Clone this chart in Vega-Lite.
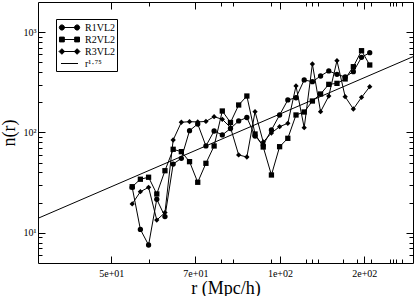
{
  "$schema": "https://vega.github.io/schema/vega-lite/v6.json",
  "width": 375,
  "height": 261,
  "autosize": {"type": "none"},
  "padding": {"left": 38, "top": 2, "right": 2, "bottom": 33},
  "background": "white",
  "datasets": {
    "obs": [
      {"s":"R1VL2","r":51.1,"n":28.4},{"s":"R1VL2","r":53.52,"n":10.8},{"s":"R1VL2","r":56.06,"n":7.56},{"s":"R1VL2","r":58.72,"n":21.6},{"s":"R1VL2","r":61.5,"n":14.5},
      {"s":"R1VL2","r":64.42,"n":48.5},{"s":"R1VL2","r":67.47,"n":55.3},{"s":"R1VL2","r":70.67,"n":104.3},{"s":"R1VL2","r":74.02,"n":121.6},{"s":"R1VL2","r":77.53,"n":73.4},
      {"s":"R1VL2","r":81.2,"n":103.5},{"s":"R1VL2","r":85.05,"n":94.5},{"s":"R1VL2","r":89.08,"n":109.6},{"s":"R1VL2","r":93.3,"n":130.3},{"s":"R1VL2","r":97.72,"n":141.1},
      {"s":"R1VL2","r":102.35,"n":92.3},{"s":"R1VL2","r":107.2,"n":75.0},{"s":"R1VL2","r":112.28,"n":105.9},{"s":"R1VL2","r":117.6,"n":149.5},{"s":"R1VL2","r":123.18,"n":211},
      {"s":"R1VL2","r":129.02,"n":222},{"s":"R1VL2","r":135.14,"n":334},{"s":"R1VL2","r":141.54,"n":321},{"s":"R1VL2","r":148.25,"n":366},{"s":"R1VL2","r":155.28,"n":411},
      {"s":"R1VL2","r":162.64,"n":380},{"s":"R1VL2","r":170.35,"n":358},{"s":"R1VL2","r":178.43,"n":404},{"s":"R1VL2","r":186.89,"n":562},{"s":"R1VL2","r":195.75,"n":625},
      {"s":"R2VL2","r":51.1,"n":28.8},{"s":"R2VL2","r":53.52,"n":34.2},{"s":"R2VL2","r":56.06,"n":35.8},{"s":"R2VL2","r":58.72,"n":24.4},{"s":"R2VL2","r":61.5,"n":41.6},
      {"s":"R2VL2","r":64.42,"n":68.0},{"s":"R2VL2","r":67.47,"n":64.4},{"s":"R2VL2","r":70.67,"n":51.2},{"s":"R2VL2","r":74.02,"n":31.9},{"s":"R2VL2","r":77.53,"n":49.3},
      {"s":"R2VL2","r":81.2,"n":73.4},{"s":"R2VL2","r":85.05,"n":163.8},{"s":"R2VL2","r":89.08,"n":125.8},{"s":"R2VL2","r":93.3,"n":188},{"s":"R2VL2","r":97.72,"n":231},
      {"s":"R2VL2","r":102.35,"n":96.6},{"s":"R2VL2","r":107.2,"n":71.7},{"s":"R2VL2","r":112.28,"n":37.7},{"s":"R2VL2","r":117.6,"n":72.2},{"s":"R2VL2","r":123.18,"n":87.5},
      {"s":"R2VL2","r":129.02,"n":149.5},{"s":"R2VL2","r":135.14,"n":160.1},{"s":"R2VL2","r":141.54,"n":206},{"s":"R2VL2","r":148.25,"n":242},{"s":"R2VL2","r":155.28,"n":302},
      {"s":"R2VL2","r":162.64,"n":309},{"s":"R2VL2","r":170.35,"n":342},{"s":"R2VL2","r":178.43,"n":453},{"s":"R2VL2","r":186.89,"n":654},{"s":"R2VL2","r":195.75,"n":471},
      {"s":"R3VL2","r":51.1,"n":19.4},{"s":"R3VL2","r":53.52,"n":25.7},{"s":"R3VL2","r":56.06,"n":28.4},{"s":"R3VL2","r":58.72,"n":13.4},{"s":"R3VL2","r":61.5,"n":15.9},
      {"s":"R3VL2","r":64.42,"n":84.2},{"s":"R3VL2","r":67.47,"n":126.5},{"s":"R3VL2","r":70.67,"n":128.2},{"s":"R3VL2","r":74.02,"n":127.4},{"s":"R3VL2","r":77.53,"n":129},
      {"s":"R3VL2","r":81.2,"n":143.8},{"s":"R3VL2","r":85.05,"n":135.4},{"s":"R3VL2","r":89.08,"n":112.2},{"s":"R3VL2","r":93.3,"n":59.7},{"s":"R3VL2","r":97.72,"n":57.0},
      {"s":"R3VL2","r":102.35,"n":161.2},{"s":"R3VL2","r":107.2,"n":80.4},{"s":"R3VL2","r":112.28,"n":98.9},{"s":"R3VL2","r":117.6,"n":114.3},{"s":"R3VL2","r":123.18,"n":123.5},
      {"s":"R3VL2","r":129.02,"n":291},{"s":"R3VL2","r":135.14,"n":111.7},{"s":"R3VL2","r":141.54,"n":482},{"s":"R3VL2","r":148.25,"n":161.2},{"s":"R3VL2","r":155.28,"n":231},
      {"s":"R3VL2","r":162.64,"n":520},{"s":"R3VL2","r":170.35,"n":227.5},{"s":"R3VL2","r":178.43,"n":171.5},{"s":"R3VL2","r":186.89,"n":224},{"s":"R3VL2","r":195.75,"n":286}
    ],
    "fit": [{"r":30,"n":13.95},{"r":250,"n":570}],
    "key": [
      {"label":"R1VL2","r":100,"n":100},
      {"label":"R2VL2","r":100,"n":100},
      {"label":"R3VL2","r":100,"n":100},
      {"label":"r¹·⁷⁵","r":100,"n":100}
    ]
  },
  "layer": [
    {
      "data": {"name": "obs"},
      "mark": {"type": "line", "color": "black", "strokeWidth": 1},
      "encoding": {
        "x": {"field": "r", "type": "quantitative",
              "scale": {"type": "log", "domain": [30, 250], "nice": false, "zero": false},
              "axis": {"orient": "bottom", "values": [45.41, 73.05, 117.8, 189.8],
                       "labelExpr": "replace(format(datum.value, '.0e'), 'e+', 'e+0')",
                       "tickSize": -7, "labelPadding": 12, "labelFlush": false, "labelOverlap": false,
                       "title": "r (Mpc/h)", "titlePadding": 1}},
        "y": {"field": "n", "type": "quantitative",
              "scale": {"type": "log", "domain": [5, 2000], "nice": false, "zero": false},
              "axis": {"orient": "left", "values": [10, 100, 1000],
                       "labelExpr": "datum.value == 10 ? '10¹' : datum.value == 100 ? '10²' : '10³'",
                       "tickSize": -7, "labelPadding": 9, "labelOverlap": false,
                       "title": "n(r)", "titlePadding": 5}},
        "detail": {"field": "s"}
      }
    },
    {
      "data": {"name": "obs"},
      "mark": {"type": "point", "filled": true, "color": "black", "size": 28, "opacity": 1},
      "encoding": {
        "x": {"field": "r", "type": "quantitative",
              "scale": {"type": "log", "domain": [30, 250], "nice": false, "zero": false},
              "axis": {"orient": "bottom", "values": [56.2, 84.3, 90.6, 112.3, 136.2, 140.9, 145.8, 168.5, 181.8, 197.1, 219.5, 223.6, 226.7, 235.3],
                       "labels": false, "domain": false, "tickSize": -4, "title": null}},
        "y": {"field": "n", "type": "quantitative",
              "scale": {"type": "log", "domain": [5, 2000], "nice": false, "zero": false},
              "axis": {"orient": "left", "values": [6, 7, 8, 9, 20, 30, 40, 50, 60, 70, 80, 90, 200, 300, 400, 500, 600, 700, 800, 900],
                       "labels": false, "domain": false, "tickSize": -4, "title": null}},
        "shape": {"field": "s", "type": "nominal",
                  "scale": {"domain": ["R1VL2", "R2VL2", "R3VL2"], "range": ["circle", "square", "diamond"]},
                  "legend": null}
      }
    },
    {
      "data": {"name": "fit"},
      "mark": {"type": "line", "color": "black", "strokeWidth": 1},
      "encoding": {
        "x": {"field": "r", "type": "quantitative",
              "scale": {"type": "log", "domain": [30, 250], "nice": false, "zero": false},
              "axis": {"orient": "top", "values": [45.41, 73.05, 117.8, 189.8],
                       "labels": false, "tickSize": -7, "title": null}},
        "y": {"field": "n", "type": "quantitative",
              "scale": {"type": "log", "domain": [5, 2000], "nice": false, "zero": false},
              "axis": {"orient": "right", "values": [10, 100, 1000],
                       "labels": false, "tickSize": -7, "title": null}}
      }
    },
    {
      "data": {"name": "key"},
      "mark": {"type": "point", "filled": true, "fill": "black", "stroke": "black", "strokeWidth": 1, "opacity": 0},
      "encoding": {
        "x": {"field": "r", "type": "quantitative",
              "scale": {"type": "log", "domain": [30, 250], "nice": false, "zero": false},
              "axis": {"orient": "top", "values": [56.2, 84.3, 90.6, 112.3, 136.2, 140.9, 145.8, 168.5, 181.8, 197.1, 219.5, 223.6, 226.7, 235.3],
                       "labels": false, "domain": false, "tickSize": -4, "title": null}},
        "y": {"field": "n", "type": "quantitative",
              "scale": {"type": "log", "domain": [5, 2000], "nice": false, "zero": false},
              "axis": {"orient": "right", "values": [6, 7, 8, 9, 20, 30, 40, 50, 60, 70, 80, 90, 200, 300, 400, 500, 600, 700, 800, 900],
                       "labels": false, "domain": false, "tickSize": -4, "title": null}},
        "shape": {"field": "label", "type": "nominal",
                  "scale": {"domain": ["R1VL2", "R2VL2", "R3VL2", "r¹·⁷⁵"],
                            "range": [
                              "M-1.417,0H1.417M-1.7,0A0.433,0.433,0,1,0,-0.834,0A0.433,0.433,0,1,0,-1.7,0ZM0.834,0A0.433,0.433,0,1,0,1.7,0A0.433,0.433,0,1,0,0.834,0Z",
                              "M-1.417,0H1.417M-1.667,-0.4H-0.867V0.4H-1.667ZM0.867,-0.4H1.667V0.4H0.867Z",
                              "M-1.417,0H1.417M-1.267,-0.467L-0.8,0L-1.267,0.467L-1.734,0ZM1.267,-0.467L1.734,0L1.267,0.467L0.8,0Z",
                              "M-1.417,0H1.417"
                            ]},
                  "legend": {"title": null, "orient": "none", "legendX": 18, "legendY": 17,
                             "padding": 2, "rowPadding": 0, "symbolSize": 144, "symbolOffset": 5,
                             "symbolOpacity": 1, "symbolFillColor": "black", "symbolStrokeColor": "black", "symbolStrokeWidth": 1,
                             "labelOffset": 9, "labelFont": "Liberation Serif", "labelFontSize": 10, "labelColor": "black",
                             "labelExpr": "datum.label + '    '",
                             "strokeColor": "black", "fillColor": "white",
                             "encoding": {"symbols": {"stroke": {"value": "black"}, "strokeWidth": {"value": 1}, "fill": {"value": "black"}, "opacity": {"value": 1}, "strokeOpacity": {"value": 1}, "fillOpacity": {"value": 1}}}}}
      }
    }
  ],
  "resolve": {"axis": {"x": "independent", "y": "independent"}, "scale": {"shape": "independent"}},
  "config": {
    "font": "Liberation Serif",
    "view": {"stroke": null},
    "axis": {"grid": false, "labelFont": "Liberation Serif", "titleFont": "Liberation Serif",
             "labelFontSize": 10, "titleFontSize": 18, "titleFontWeight": "normal",
             "labelColor": "black", "titleColor": "black", "domainColor": "black", "tickColor": "black",
             "domainWidth": 1, "tickWidth": 1}
  }
}
